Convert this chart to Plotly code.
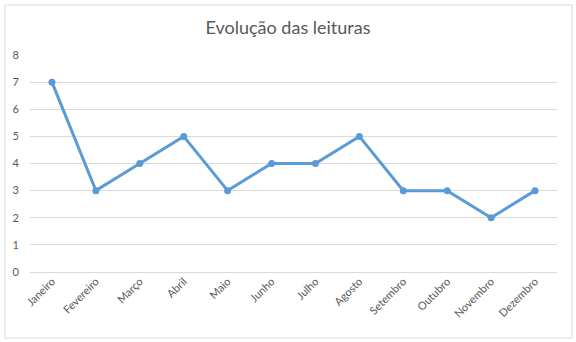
import plotly.graph_objects as go

meses = ["Janeiro", "Fevereiro", "Março", "Abril", "Maio", "Junho",
         "Julho", "Agosto", "Setembro", "Outubro", "Novembro", "Dezembro"]
leituras = [7, 3, 4, 5, 3, 4, 4, 5, 3, 3, 2, 3]
y_ticks = [0, 1, 2, 3, 4, 5, 6, 7, 8]

W, H = 576, 342
ML, MR, MT, MB = 30, 19, 55, 70
pw, ph = W - ML - MR, H - MT - MB


def px_to_paper_x(px):
    return (px - ML) / pw


def px_to_paper_y(py):
    return (H - MB - py) / ph


fig = go.Figure()
fig.add_trace(go.Scatter(
    x=list(range(len(meses))), y=leituras, mode="lines+markers",
    line=dict(color="#5B9BD5", width=3),
    marker=dict(color="#5B9BD5", size=7),
    hoverinfo="skip",
))

fig.update_layout(
    width=W, height=H,
    margin=dict(l=ML, r=MR, t=MT, b=MB),
    paper_bgcolor="white", plot_bgcolor="white",
    showlegend=False,
    font=dict(family="Lato, Open Sans, sans-serif", color="#595959", size=11),
    title=dict(text="Evolução das leituras", x=0.5, xanchor="center",
               y=1 - 28 / H, yanchor="middle",
               font=dict(size=18, color="#595959")),
    xaxis=dict(
        range=[-0.5, len(meses) - 0.5],
        tickvals=list(range(len(meses))), ticktext=meses,
        tickangle=-45, showgrid=False, zeroline=False, showline=False,
        ticks="", tickfont=dict(size=11, color="#595959"),
    ),
    yaxis=dict(
        range=[0, 8], tickvals=y_ticks, ticktext=[str(v) for v in y_ticks],
        showgrid=True, gridcolor="#D9D9D9", gridwidth=1,
        zeroline=True, zerolinecolor="#D9D9D9", zerolinewidth=1,
        showline=False, ticks="", ticklabelstandoff=10,
        tickfont=dict(size=11, color="#595959"),
    ),
    shapes=[
        dict(type="rect", xref="paper", yref="paper",
             x0=px_to_paper_x(5), x1=px_to_paper_x(572),
             y0=px_to_paper_y(338), y1=px_to_paper_y(5),
             line=dict(color="#D9D9D9", width=1), fillcolor="rgba(0,0,0,0)",
             layer="below"),
    ],
)

fig.write_html("out.html")
